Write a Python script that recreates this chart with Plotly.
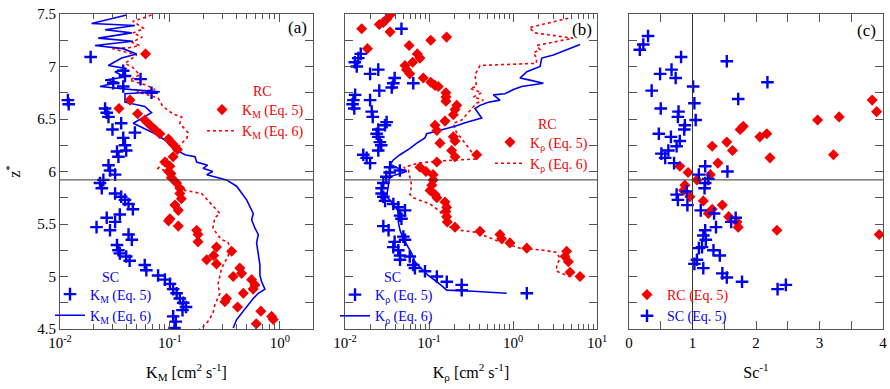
import plotly.graph_objects as go

# ---------------- data ----------------
# Panel (a): K_M vs z*
a_sc5_z = [7.09, 6.68, 6.64, 6.96, 6.91, 6.88, 6.84, 6.81, 6.75, 6.60, 6.56, 6.52, 6.46, 6.40, 6.37,
           6.32, 6.25, 6.20, 6.19, 6.14, 6.06, 6.01, 5.97, 5.92, 5.89, 5.84, 5.79, 5.76, 5.73, 5.69,
           5.64, 5.59, 5.56, 5.52, 5.47, 5.44, 5.40, 5.35, 5.30, 5.25, 5.22, 5.19, 5.15, 5.11, 5.06,
           5.01, 4.97, 4.93, 4.88, 4.84, 4.79, 4.75, 4.71, 4.68, 4.62, 4.57, 4.51]
a_sc5_k = [0.019, 0.0118, 0.012, 0.0376, 0.039, 0.054, 0.0305, 0.0376, 0.068, 0.0257, 0.0266, 0.0276,
           0.036, 0.030, 0.048, 0.0376, 0.039, 0.040, 0.033, 0.034, 0.0276, 0.0285, 0.0317, 0.0248,
           0.0231, 0.024, 0.0317, 0.036, 0.039, 0.042, 0.046, 0.035, 0.0266, 0.0317, 0.0215, 0.0285,
           0.042, 0.045, 0.033, 0.034, 0.035, 0.040, 0.043, 0.059, 0.061, 0.078, 0.090, 0.100, 0.107,
           0.115, 0.123, 0.132, 0.140, 0.130, 0.107, 0.113, 0.110]

a_rc5_z = [7.12, 6.68, 6.60, 6.55, 6.49, 6.44, 6.40, 6.36, 6.31, 6.26, 6.21, 6.14, 6.09, 6.05, 6.00,
           5.98, 5.94, 5.89, 5.84, 5.79, 5.74, 5.68, 5.63, 5.55, 5.53, 5.48, 5.44, 5.40, 5.33, 5.28,
           5.24, 5.20, 5.16, 5.12, 5.08, 5.03, 5.00, 4.97, 4.92, 4.88, 4.84, 4.79, 4.76, 4.71, 4.67,
           4.62, 4.59, 4.55]
a_rc5_k = [0.060, 0.0433, 0.0344, 0.0508, 0.059, 0.066, 0.073, 0.081, 0.097, 0.107, 0.117, 0.107,
           0.090, 0.100, 0.097, 0.102, 0.103, 0.115, 0.123, 0.123, 0.127, 0.111, 0.119, 0.100, 0.097,
           0.119, 0.175, 0.180, 0.180, 0.265, 0.364, 0.250, 0.216, 0.265, 0.432, 0.448, 0.376, 0.553,
           0.593, 0.571, 0.465, 0.327, 0.316, 0.412, 0.671, 0.840, 0.870, 0.610]

a_rc6_z = [7.49, 7.46, 7.43, 7.40, 7.36, 7.32, 7.28, 7.23, 7.20, 7.18, 7.17, 7.11, 7.03, 6.99, 6.92,
           6.87, 6.82, 6.78, 6.76, 6.70, 6.62, 6.55, 6.52, 6.46, 6.37, 6.32, 6.03, 6.01, 5.82, 5.79,
           5.65, 5.60, 5.56, 5.46, 5.41, 5.35, 5.33, 5.27, 5.19, 5.14, 5.08, 5.01, 4.92, 4.84, 4.79,
           4.73, 4.65, 4.57, 4.52, 4.50]
a_rc6_k = [0.068, 0.057, 0.046, 0.051, 0.058, 0.046, 0.056, 0.045, 0.053, 0.043, 0.030, 0.050, 0.039,
           0.046, 0.053, 0.043, 0.062, 0.073, 0.050, 0.078, 0.086, 0.106, 0.128, 0.123, 0.146, 0.143,
           0.078, 0.090, 0.137, 0.194, 0.256, 0.285, 0.256, 0.246, 0.266, 0.295, 0.337, 0.351, 0.337,
           0.316, 0.295, 0.285, 0.273, 0.285, 0.273, 0.256, 0.246, 0.221, 0.200, 0.185]

a_sc6_z = [7.49, 7.41, 7.39, 7.35, 7.32, 7.27, 7.24, 7.20, 7.17, 7.12, 7.08, 7.01, 6.98, 6.95, 6.90,
           6.87, 6.85, 6.81, 6.78, 6.76, 6.74, 6.66, 6.62, 6.56, 6.46, 6.36, 6.30, 6.22, 6.16, 6.14,
           6.09, 6.06, 6.03, 6.00, 5.97, 5.92, 5.86, 5.79, 5.73, 5.60, 5.54, 5.46, 5.40, 5.32, 5.19,
           5.11, 5.01, 4.95, 4.88, 4.84, 4.79, 4.73, 4.66, 4.59, 4.51]
a_sc6_k = [0.0404, 0.0194, 0.048, 0.0257, 0.0449, 0.0223, 0.046, 0.0208, 0.0374, 0.0498, 0.0364,
           0.0275, 0.0404, 0.0316, 0.039, 0.0257, 0.0339, 0.0231, 0.0449, 0.081, 0.039, 0.039, 0.059,
           0.068, 0.0464, 0.073, 0.090, 0.107, 0.137, 0.169, 0.175, 0.220, 0.200, 0.245, 0.216, 0.327,
           0.404, 0.449, 0.498, 0.572, 0.553, 0.593, 0.636, 0.614, 0.636, 0.658, 0.658, 0.682, 0.731,
           0.636, 0.572, 0.515, 0.449, 0.404, 0.376]

# Panel (b): K_rho vs z*
b_sc5_z = [7.36, 7.12, 7.08, 7.04, 7.00, 6.97, 6.93, 6.89, 6.84, 6.80, 6.84, 6.77, 6.73, 6.68, 6.64,
           6.60, 6.68, 6.57, 6.52, 6.47, 6.44, 6.40, 6.36, 6.33, 6.28, 6.25, 6.20, 6.16, 6.13, 6.08,
           6.04, 6.01, 5.99, 5.95, 5.89, 5.84, 5.79, 5.76, 5.72, 5.69, 5.66, 5.63, 5.58, 5.55, 5.48,
           5.44, 5.38, 5.35, 5.33, 5.28, 5.25, 5.20, 5.16, 5.19, 5.11, 5.08, 5.05, 5.00, 4.95, 4.92,
           4.87, 4.84]
b_sc5_k = [0.047, 0.0154, 0.0144, 0.0131, 0.0138, 0.0249, 0.0199, 0.039, 0.0376, 0.036, 0.065, 0.0256,
           0.0132, 0.0126, 0.0123, 0.0129, 0.0199, 0.0208, 0.0214, 0.0313, 0.0299, 0.0249, 0.0238,
           0.0249, 0.026, 0.027, 0.0249, 0.0165, 0.0181, 0.0199, 0.0344, 0.045, 0.034, 0.031, 0.0286,
           0.0273, 0.0273, 0.0286, 0.030, 0.0376, 0.0431, 0.0518, 0.0452, 0.047, 0.0286, 0.033, 0.0495,
           0.0518, 0.039, 0.0376, 0.0431, 0.0452, 0.0452, 0.059, 0.065, 0.068, 0.0896, 0.124, 0.163,
           0.245, 0.245, 1.46]

b_rc5_z = [7.49, 7.45, 7.42, 7.40, 7.36, 7.33, 7.28, 7.25, 7.20, 7.17, 7.12, 7.08, 7.04, 7.01, 6.97,
           6.93, 6.89, 6.85, 6.82, 6.81, 6.75, 6.71, 6.67, 6.63, 6.59, 6.54, 6.48, 6.44, 6.39, 6.33,
           6.29, 6.27, 6.20, 6.16, 6.14, 6.09, 6.04, 6.00, 5.97, 5.92, 5.87, 5.82, 5.78, 5.75, 5.71,
           5.66, 5.62, 5.57, 5.52, 5.47, 5.43, 5.40, 5.36, 5.32, 5.27, 5.24, 5.19, 5.14, 5.04, 5.00]
b_rc5_k = [0.0344, 0.0313, 0.0286, 0.0256, 0.0158, 0.0344, 0.162, 0.105, 0.058, 0.0185, 0.0726, 0.078,
           0.064, 0.0518, 0.054, 0.059, 0.0855, 0.105, 0.118, 0.129, 0.159, 0.159, 0.159, 0.214, 0.204,
           0.195, 0.155, 0.118, 0.124, 0.195, 0.204, 0.135, 0.186, 0.37, 0.204, 0.124, 0.078, 0.092,
           0.112, 0.112, 0.108, 0.103, 0.118, 0.124, 0.155, 0.162, 0.159, 0.162, 0.165, 0.204, 0.405,
           0.70, 0.733, 0.92, 1.46, 4.35, 4.16, 4.56, 4.77, 6.28]

b_rc6_z = [7.46, 7.37, 7.32, 7.27, 7.20, 7.16, 7.13, 7.08, 7.03, 7.01, 6.92, 6.81, 6.79, 6.75, 6.71,
           6.68, 6.65, 6.60, 6.54, 6.49, 6.46, 6.38, 6.22, 6.12, 6.10, 6.08, 6.04, 6.01, 5.87, 5.78,
           5.75, 5.69, 5.62, 5.47, 5.44, 5.42, 5.38, 5.33, 5.27, 5.25, 5.23, 5.17, 5.11, 5.05, 5.00]
b_rc6_k = [4.55, 1.56, 1.83, 5.18, 1.91, 2.10, 1.75, 1.91, 1.90, 0.405, 0.353, 0.368, 0.308, 0.424,
           0.337, 0.443, 0.368, 0.322, 0.281, 0.245, 0.195, 0.21, 0.30, 0.37, 0.13, 0.075, 0.050,
           0.057, 0.062, 0.0595, 0.065, 0.103, 0.135, 0.178, 0.234, 0.368, 0.486, 0.70, 1.21, 2.30,
           3.31, 3.63, 3.31, 3.31, 4.77]

b_sc6_z = [7.21, 7.17, 7.13, 7.11, 7.08, 7.00, 6.95, 6.89, 6.87, 6.84, 6.81, 6.78, 6.74, 6.73, 6.68,
           6.66, 6.63, 6.60, 6.51, 6.47, 6.43, 6.39, 6.36, 6.32, 6.27, 6.22, 6.16, 6.11, 6.07, 6.03,
           6.00, 5.95, 5.87, 5.76, 5.71, 5.62, 5.52, 5.44, 5.36, 5.30, 5.22, 5.14, 5.09, 5.01, 4.95,
           4.91, 4.87, 4.86, 4.84]
b_sc6_k = [6.28, 4.77, 3.63, 3.02, 2.20, 2.10, 1.46, 1.21, 1.59, 2.30, 1.27, 1.01, 0.80, 0.583, 0.70,
           0.508, 0.405, 0.353, 0.424, 0.281, 0.204, 0.135, 0.094, 0.0896, 0.0715, 0.0595, 0.0452,
           0.0376, 0.0344, 0.0431, 0.0543, 0.034, 0.0327, 0.0313, 0.036, 0.0431, 0.0431, 0.0452,
           0.0494, 0.0543, 0.0622, 0.068, 0.078, 0.098, 0.124, 0.142, 0.163, 0.337, 0.84]

# Panel (c): Sc^-1 vs z*
c_sc_x = [0.30, 0.225, 0.17, 0.82, 1.54, 0.49, 0.67, 0.735, 2.18, 0.357, 1.01, 1.03, 1.72, 0.50, 0.78,
          0.77, 1.05, 0.88, 0.87, 0.47, 0.66, 0.80, 0.75, 0.62, 0.51, 0.57, 0.71, 1.20, 1.55, 1.10,
          1.25, 1.20, 1.19, 0.75, 0.77, 0.91, 0.92, 1.13, 1.34, 1.68, 1.61, 1.37, 1.20, 1.17, 1.21,
          1.15, 1.10, 1.33, 1.43, 1.07, 1.03, 1.17, 1.47, 1.54, 1.78, 2.34, 2.47]
c_sc_z = [7.29, 7.21, 7.16, 7.09, 7.05, 6.93, 6.97, 6.89, 6.85, 6.77, 6.81, 6.65, 6.69, 6.60, 6.57,
          6.52, 6.49, 6.44, 6.40, 6.36, 6.33, 6.29, 6.24, 6.20, 6.17, 6.13, 6.08, 6.05, 6.00, 5.97,
          5.93, 5.89, 5.84, 5.78, 5.73, 5.81, 5.68, 5.63, 5.60, 5.56, 5.52, 5.47, 5.44, 5.39, 5.35,
          5.28, 5.27, 5.25, 5.20, 5.16, 5.12, 5.08, 5.03, 4.99, 4.95, 4.88, 4.92]

c_rc_x = [3.83, 3.90, 2.97, 3.31, 1.75, 1.80, 2.06, 2.17, 1.54, 1.31, 1.63, 3.22, 2.22, 1.40, 0.80,
          0.93, 1.28, 1.07, 0.88, 0.86, 0.96, 1.17, 1.47, 1.31, 1.25, 1.57, 1.70, 1.72, 2.33, 3.94]
c_rc_z = [6.68, 6.57, 6.49, 6.52, 6.40, 6.43, 6.33, 6.36, 6.28, 6.24, 6.20, 6.16, 6.13, 6.08, 6.05,
          5.99, 5.97, 5.92, 5.87, 5.82, 5.76, 5.72, 5.68, 5.64, 5.60, 5.57, 5.52, 5.47, 5.44, 5.40]

z_ref = 5.92      # horizontal reference line
sc_ref = 1.0      # vertical reference line in (c)

# ---------------- style ----------------
RED = "#f20000"
BLUE = "#0000ee"
FONT = "Liberation Serif, DejaVu Serif, serif"
AX = "#555555"

W, H = 890, 389
ML, MR, MT, MB = 60, 7, 14, 60
PW, PH = W - ML - MR, H - MT - MB


def px(x):
    return (x - ML) / PW


def py(y):
    return (H - MB - y) / PH


fig = go.Figure()


def diamonds(x, y, xa, ya, name, legend, rank=1):
    fig.add_trace(go.Scatter(x=x, y=y, xaxis=xa, yaxis=ya, mode="markers", name=name,
                             legend=legend, legendrank=rank,
                             marker=dict(symbol="diamond", size=8.5, color=RED, line=dict(width=0))))


def crosses(x, y, xa, ya, name, legend, rank=1):
    fig.add_trace(go.Scatter(x=x, y=y, xaxis=xa, yaxis=ya, mode="markers", name=name,
                             legend=legend, legendrank=rank,
                             marker=dict(symbol="cross-thin", size=9, color=BLUE,
                                         line=dict(width=2.4, color=BLUE))))


def line(x, y, xa, ya, name, legend, color, dash):
    fig.add_trace(go.Scatter(x=x, y=y, xaxis=xa, yaxis=ya, mode="lines", name=name,
                             legend=legend, legendrank=2,
                             line=dict(color=color, width=1.6, dash=dash)))


# panel a
line(a_rc6_k, a_rc6_z, "x", "y", "K<sub>M</sub> (Eq. 6)", "legend", RED, "dot")
line(a_sc6_k, a_sc6_z, "x", "y", "K<sub>M</sub> (Eq. 6)", "legend2", BLUE, "solid")
diamonds(a_rc5_k, a_rc5_z, "x", "y", "K<sub>M</sub> (Eq. 5)", "legend")
crosses(a_sc5_k, a_sc5_z, "x", "y", "K<sub>M</sub> (Eq. 5)", "legend2")
# panel b
line(b_rc6_k, b_rc6_z, "x2", "y2", "K<sub>ρ</sub> (Eq. 6)", "legend3", RED, "dot")
line(b_sc6_k, b_sc6_z, "x2", "y2", "K<sub>ρ</sub> (Eq. 6)", "legend4", BLUE, "solid")
diamonds(b_rc5_k, b_rc5_z, "x2", "y2", "K<sub>ρ</sub> (Eq. 5)", "legend3")
crosses(b_sc5_k, b_sc5_z, "x2", "y2", "K<sub>ρ</sub> (Eq. 5)", "legend4")
# panel c
diamonds(c_rc_x, c_rc_z, "x3", "y3", "RC (Eq. 5)", "legend5", rank=1)
crosses(c_sc_x, c_sc_z, "x3", "y3", "<span style='color:%s'>SC (Eq. 5)</span>" % BLUE, "legend5",
        rank=2)

tickfont = dict(family=FONT, size=15, color="black")
titlefont = dict(family=FONT, size=16, color="black")

common_axis = dict(showline=True, linecolor=AX, linewidth=1, mirror="allticks", ticks="inside",
                   tickcolor=AX, tickfont=tickfont, showgrid=False, zeroline=False)

log_major = [0.01, 0.1, 1, 10]
log_text = ["10<sup>-2</sup>", "10<sup>-1</sup>", "10<sup>0</sup>", "10<sup>1</sup>"]
log_minor = [m * d for d in (0.01, 0.1, 1) for m in range(2, 10)]

dA = [0, px(313)]
dB = [px(345), px(597)]
dC = [px(629), 1]

fig.update_layout(
    width=W, height=H, margin=dict(l=ML, r=MR, t=MT, b=MB, autoexpand=False),
    paper_bgcolor="white", plot_bgcolor="white",
    font=dict(family=FONT, size=15, color="black"),
    xaxis=dict(common_axis, type="log", domain=dA, range=[-2, 0.30103], tickvals=log_major,
               ticktext=log_text, ticklen=8,
               minor=dict(tickvals=log_minor, ticks="inside", ticklen=5, tickcolor=AX),
               title=dict(text="K<sub>M</sub> [cm<sup>2</sup> s<sup>-1</sup>]", font=titlefont,
                          standoff=16)),
    xaxis2=dict(common_axis, type="log", domain=dB, range=[-2, 1], tickvals=log_major,
                ticktext=log_text, ticklen=8,
                minor=dict(tickvals=log_minor, ticks="inside", ticklen=5, tickcolor=AX),
                title=dict(text="K<sub>ρ</sub> [cm<sup>2</sup> s<sup>-1</sup>]", font=titlefont,
                           standoff=16), anchor="y2"),
    xaxis3=dict(common_axis, domain=dC, range=[0, 4], tickvals=[0, 1, 2, 3, 4], ticklen=8,
                minor=dict(dtick=0.5, ticks="inside", ticklen=8, tickcolor=AX),
                title=dict(text="Sc<sup>-1</sup>", font=titlefont, standoff=16), anchor="y3"),
    yaxis=dict(common_axis, range=[4.5, 7.5], tickvals=[4.5, 5, 5.5, 6, 6.5, 7, 7.5],
               ticktext=["4.5", "5", "5.5", "6", "6.5", "7", "7.5"], ticklen=8,
               minor=dict(dtick=0.25, ticks="inside", ticklen=8, tickcolor=AX),
               title=dict(text="z<sup>*</sup>", font=titlefont, standoff=12)),
    yaxis2=dict(common_axis, range=[4.5, 7.5], tickvals=[4.5, 5, 5.5, 6, 6.5, 7, 7.5],
                showticklabels=False, ticklen=8, anchor="x2",
                minor=dict(dtick=0.25, ticks="inside", ticklen=8, tickcolor=AX)),
    yaxis3=dict(common_axis, range=[4.5, 7.5], tickvals=[4.5, 5, 5.5, 6, 6.5, 7, 7.5],
                showticklabels=False, ticklen=8, anchor="x3",
                minor=dict(dtick=0.25, ticks="inside", ticklen=8, tickcolor=AX)),
)

leg_common = dict(bgcolor="rgba(0,0,0,0)", borderwidth=0, xanchor="left", yanchor="middle",
                  tracegroupgap=0, itemwidth=30, traceorder="normal")
fig.update_layout(
    legend=dict(leg_common, x=px(202), y=py(120.5), font=dict(family=FONT, size=14, color=RED)),
    legend2=dict(leg_common, x=px(50), y=py(305), font=dict(family=FONT, size=14, color=BLUE)),
    legend3=dict(leg_common, x=px(490), y=py(153), font=dict(family=FONT, size=14, color=RED)),
    legend4=dict(leg_common, x=px(335), y=py(305.5), font=dict(family=FONT, size=14, color=BLUE)),
    legend5=dict(leg_common, x=px(627), y=py(305.5), font=dict(family=FONT, size=14, color=RED)),
)

ann = []
for txt, x, y, col in [("RC", 262, 91, RED), ("SC", 110, 277, BLUE),
                       ("RC", 547, 125, RED), ("SC", 392, 277, BLUE)]:
    ann.append(dict(text=txt, x=px(x), y=py(y), xref="paper", yref="paper", showarrow=False,
                    xanchor="center", yanchor="middle", font=dict(family=FONT, size=14, color=col)))
for txt, x, y in [("(a)", 309, 28), ("(b)", 594, 29), ("(c)", 878, 30)]:
    ann.append(dict(text=txt, x=px(x), y=py(y), xref="paper", yref="paper", showarrow=False,
                    xanchor="right", yanchor="middle", font=dict(family=FONT, size=17, color="black")))
fig.update_layout(annotations=ann)

shapes = []
for xa, ya in [("x", "y"), ("x2", "y2"), ("x3", "y3")]:
    shapes.append(dict(type="line", xref=xa + " domain", yref=ya, x0=0, x1=1, y0=z_ref, y1=z_ref,
                       line=dict(color="#333333", width=1), layer="above"))
shapes.append(dict(type="line", xref="x3", yref="y3 domain", x0=sc_ref, x1=sc_ref, y0=0, y1=1,
                   line=dict(color="#333333", width=1), layer="above"))
fig.update_layout(shapes=shapes)

fig.write_html("out.html", config={"displayModeBar": False},
               post_script="document.body.style.margin='0';")
